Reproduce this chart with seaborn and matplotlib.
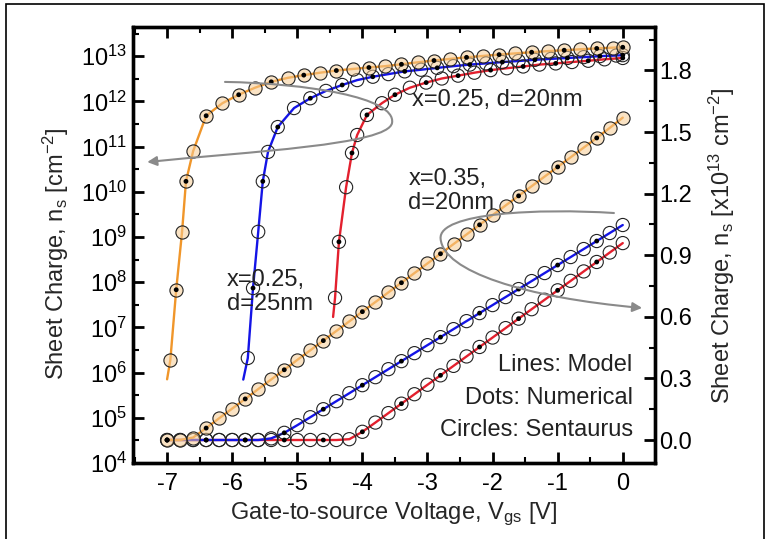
import numpy as np
import matplotlib
matplotlib.use("Agg")
import matplotlib.pyplot as plt
from matplotlib.path import Path
from matplotlib.patches import FancyArrowPatch, Rectangle
from matplotlib.ticker import MultipleLocator, LogLocator, NullFormatter, FormatStrFormatter
import seaborn as sns

sns.set_style("ticks")
plt.rcParams['font.family'] = ['Liberation Sans', 'DejaVu Sans']
plt.rcParams['mathtext.fontset'] = 'custom'
plt.rcParams['mathtext.rm'] = 'Liberation Sans'
plt.rcParams['mathtext.it'] = 'Liberation Sans:italic'
plt.rcParams['mathtext.default'] = 'regular'
plt.rcParams['axes.unicode_minus'] = False
plt.rcParams['xtick.color'] = 'black'
plt.rcParams['ytick.color'] = 'black'
plt.rcParams['axes.edgecolor'] = 'black'

# ---- log-scale data (left axis), first point = start of model line ----
v_log_orange = [-7.0, -6.95, -6.86, -6.77, -6.71, -6.60, -6.40, -6.15, -5.90, -5.65, -5.40,
                -5.15, -4.90, -4.65, -4.40, -4.15, -3.90, -3.65, -3.40, -3.15, -2.90, -2.65,
                -2.40, -2.15, -1.90, -1.65, -1.40, -1.15, -0.90, -0.65, -0.40, -0.15, 0.0]
ns_log_orange = [7.1e5, 1.9e6, 6.8e7, 1.3e9, 1.7e10, 7.9e10, 4.8e11, 9.1e11, 1.4e12, 2.0e12, 2.7e12,
                 3.3e12, 3.8e12, 4.3e12, 4.8e12, 5.2e12, 5.6e12, 6.0e12, 6.6e12, 7.3e12, 8.0e12, 8.7e12,
                 9.4e12, 1.01e13, 1.08e13, 1.15e13, 1.22e13, 1.29e13, 1.35e13, 1.42e13, 1.48e13, 1.54e13, 1.57e13]

v_log_blue = [-5.83, -5.76, -5.68, -5.60, -5.53, -5.45, -5.30, -5.05, -4.80, -4.56, -4.31, -4.08,
              -3.84, -3.60, -3.35, -3.10, -2.85, -2.60, -2.35, -2.10, -1.85, -1.60, -1.35, -1.10,
              -0.85, -0.60, -0.35, -0.10, 0.0]
ns_log_blue = [7.0e5, 2.1e6, 7.4e7, 1.3e9, 1.7e10, 7.6e10, 2.7e11, 7.1e11, 1.17e12, 1.7e12, 2.3e12, 2.95e12,
               3.5e12, 4.0e12, 4.6e12, 5.0e12, 5.5e12, 6.0e12, 6.5e12, 6.9e12, 7.4e12, 7.8e12, 8.3e12, 8.7e12,
               9.1e12, 9.5e12, 1.0e13, 1.03e13, 1.05e13]

v_log_red = [-4.45, -4.42, -4.36, -4.25, -4.16, -4.08, -3.93, -3.70, -3.50, -3.27, -3.02, -2.78,
             -2.53, -2.28, -2.03, -1.78, -1.53, -1.28, -1.03, -0.78, -0.53, -0.28, 0.0]
ns_log_red = [1.7e7, 4.5e7, 7.8e8, 1.26e10, 7.2e10, 1.8e11, 5.0e11, 9.1e11, 1.4e12, 2.0e12, 2.6e12, 3.2e12,
              3.7e12, 4.3e12, 4.9e12, 5.4e12, 5.9e12, 6.5e12, 6.9e12, 7.4e12, 7.9e12, 8.5e12, 9.1e12]

# ---- linear-scale data (right axis, units 1e13 cm^-2) ----
v_lin = [-7.0, -6.8, -6.6, -6.4, -6.2, -6.0, -5.8, -5.6, -5.4, -5.2, -5.0, -4.8, -4.6, -4.4,
         -4.2, -4.0, -3.8, -3.6, -3.4, -3.2, -3.0, -2.8, -2.6, -2.4, -2.2, -2.0, -1.8, -1.6,
         -1.4, -1.2, -1.0, -0.8, -0.6, -0.4, -0.2, 0.0]
ns_lin_orange = [0.0, 0.0, 0.012, 0.058, 0.106, 0.153, 0.200, 0.248, 0.295, 0.342, 0.390, 0.437,
                 0.484, 0.531, 0.578, 0.625, 0.672, 0.719, 0.766, 0.813, 0.860, 0.907, 0.954, 1.001,
                 1.048, 1.095, 1.142, 1.189, 1.236, 1.283, 1.330, 1.377, 1.424, 1.471, 1.520, 1.570]
ns_lin_blue = [0.0, 0.0, 0.0, 0.0, 0.0, 0.0, 0.0, 0.0, 0.008, 0.035, 0.072, 0.111,
               0.150, 0.189, 0.228, 0.267, 0.306, 0.345, 0.384, 0.423, 0.462, 0.501, 0.540, 0.579,
               0.618, 0.657, 0.696, 0.735, 0.774, 0.813, 0.852, 0.891, 0.930, 0.969, 1.008, 1.047]
ns_lin_red = [0.0, 0.0, 0.0, 0.0, 0.0, 0.0, 0.0, 0.0, 0.0, 0.0, 0.0, 0.0, 0.0, 0.0,
              0.004, 0.040, 0.085, 0.131, 0.177, 0.223, 0.269, 0.315, 0.361, 0.407, 0.453, 0.499,
              0.545, 0.591, 0.637, 0.683, 0.729, 0.775, 0.821, 0.867, 0.913, 0.959]

c_orange = '#f0962a'
c_blue = '#1414e6'
c_red = '#e3202e'
f_orange = (0.97, 0.80, 0.58, 0.55)

fig = plt.figure(figsize=(7.7, 5.39), dpi=100)
ax = fig.add_axes([0.1722, 0.141, 0.678, 0.808])
ax.set_yscale('log')
ax2 = ax.twinx()

# log curves
for v, n, col, face in [(v_log_red, ns_log_red, c_red, 'none'),
                        (v_log_blue, ns_log_blue, c_blue, 'none'),
                        (v_log_orange, ns_log_orange, c_orange, f_orange)]:
    sns.lineplot(x=v, y=n, ax=ax, color=col, lw=1.7, sort=False, estimator=None, zorder=2)
    sns.scatterplot(x=v[1:], y=n[1:], ax=ax, marker='o', s=90, color='black', facecolor=face,
                    edgecolor='#222222', linewidth=0.8, zorder=3)
    sns.scatterplot(x=v[2::2], y=n[2::2], ax=ax, marker='o', s=12, color='black',
                    edgecolor='none', zorder=4)

# linear curves
for n, col, face in [(ns_lin_red, c_red, 'none'),
                     (ns_lin_blue, c_blue, 'none'),
                     (ns_lin_orange, c_orange, f_orange)]:
    sns.lineplot(x=v_lin, y=n, ax=ax2, color=col, lw=1.7, sort=False, estimator=None, zorder=2)
    sns.scatterplot(x=v_lin, y=n, ax=ax2, marker='o', s=90, color='black', facecolor=face,
                    edgecolor='#222222', linewidth=0.8, zorder=3)
    sns.scatterplot(x=v_lin[::3], y=n[::3], ax=ax2, marker='o', s=12, color='black',
                    edgecolor='none', zorder=4)

ax.set_xlim(-7.53, 0.49)
ax.set_ylim(1e4, 4.3e13)
ax2.set_ylim(-0.112, 2.009)

ax.xaxis.set_major_locator(MultipleLocator(1))
ax.xaxis.set_minor_locator(MultipleLocator(0.5))
ax.yaxis.set_major_locator(LogLocator(base=10, numticks=20))
ax.yaxis.set_minor_locator(LogLocator(base=10, subs=(3.162,), numticks=20))
ax.yaxis.set_minor_formatter(NullFormatter())
ax2.yaxis.set_major_locator(MultipleLocator(0.3))
ax2.yaxis.set_minor_locator(MultipleLocator(0.15))
ax2.yaxis.set_major_formatter(FormatStrFormatter('%.1f'))

ax.tick_params(axis='x', which='both', direction='in', top=True, bottom=True, labelsize=17)
ax.tick_params(axis='x', which='major', length=8, width=2, pad=7)
ax.tick_params(axis='x', which='minor', length=4, width=1.5)
ax.tick_params(axis='y', which='both', direction='in', left=True, right=False, labelsize=17)
ax.tick_params(axis='y', which='major', length=8, width=2, pad=4)
ax.tick_params(axis='y', which='minor', length=4, width=1.5)
ax2.tick_params(axis='y', which='both', direction='in', right=True, left=False, labelsize=17)
ax2.tick_params(axis='y', which='major', length=8, width=2, pad=3)
ax2.tick_params(axis='y', which='minor', length=4, width=1.5)

for a in (ax, ax2):
    for sp in a.spines.values():
        sp.set_linewidth(2.4)
        sp.set_color('black')

ax.set_xlabel("Gate-to-source Voltage, V$_{gs}$ [V]", fontsize=17, labelpad=4)
ax.set_ylabel("Sheet Charge, n$_s$ [cm$^{-2}$]", fontsize=17)
ax.yaxis.set_label_coords(-0.118, 0.48)
ax2.set_ylabel("Sheet Charge, n$_s$ [x10$^{13}$ cm$^{-2}$]", fontsize=17)
ax2.yaxis.set_label_coords(1.10, 0.498)

tcol = '#222222'
ax2.text(0.535, 0.834, "x=0.25, d=20nm", transform=ax2.transAxes, fontsize=17,
         ha='left', va='center', color=tcol)
ax2.text(0.528, 0.625, "x=0.35,\nd=20nm", transform=ax2.transAxes, fontsize=17,
         ha='left', va='center', color=tcol, linespacing=1.1)
ax2.text(0.181, 0.392, "x=0.25,\nd=25nm", transform=ax2.transAxes, fontsize=17,
         ha='left', va='center', color=tcol, linespacing=1.1)
ax2.text(0.958, 0.225, "Lines: Model", transform=ax2.transAxes, fontsize=17,
         ha='right', va='center', color=tcol)
ax2.text(0.958, 0.149, "Dots: Numerical", transform=ax2.transAxes, fontsize=17,
         ha='right', va='center', color=tcol)
ax2.text(0.958, 0.076, "Circles: Sentaurus", transform=ax2.transAxes, fontsize=17,
         ha='right', va='center', color=tcol)

# gray loop arrows pointing at the axis each group belongs to
loop_left = Path([(0.177, 0.875), (0.33, 0.872), (0.505, 0.84), (0.497, 0.781),
                  (0.49, 0.73), (0.22, 0.715), (0.028, 0.691)],
                 [Path.MOVETO] + [Path.CURVE4] * 6)
loop_right = Path([(0.922, 0.574), (0.78, 0.585), (0.585, 0.575), (0.59, 0.515),
                   (0.595, 0.44), (0.75, 0.38), (0.976, 0.356)],
                  [Path.MOVETO] + [Path.CURVE4] * 6)
for p in (loop_left, loop_right):
    ax2.add_patch(FancyArrowPatch(path=p, arrowstyle='-|>', mutation_scale=14,
                                  color='#8a8a8a', lw=1.5, transform=ax2.transAxes, zorder=5))

fig.patches.append(Rectangle((6 / 770, -0.05), 758 / 770, 1.05 - 3.5 / 539, transform=fig.transFigure,
                             fill=False, lw=1.2, ec='black'))

fig.savefig("out.png", dpi=100)
